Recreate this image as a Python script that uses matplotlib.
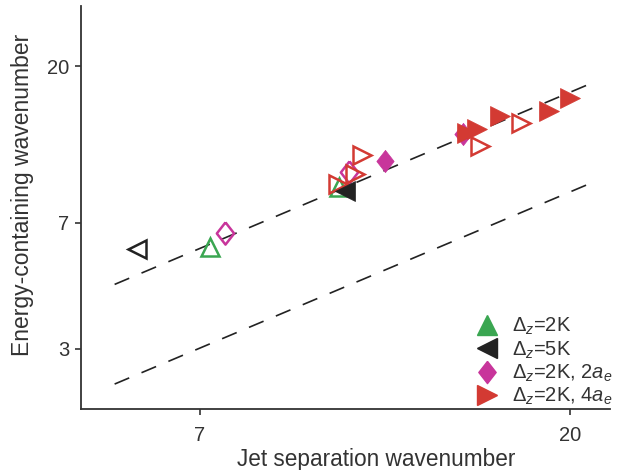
import matplotlib
matplotlib.use("Agg")
import matplotlib.pyplot as plt
import numpy as np

plt.rcParams['font.family'] = ['Liberation Sans', 'DejaVu Sans']
plt.rcParams['mathtext.fontset'] = 'custom'
plt.rcParams['mathtext.rm'] = 'Liberation Sans'
plt.rcParams['mathtext.it'] = 'Liberation Sans:italic'
plt.rcParams['mathtext.sf'] = 'Liberation Sans'

# Data (jet separation wavenumber, energy-containing wavenumber)
green_open_x = [7.2, 10.4]
green_open_y = [5.95, 8.9]

black_open_x = [5.86]
black_open_y = [5.86]
black_fill_x = [10.58]
black_fill_y = [8.66]

mag_open_x = [7.53, 10.68]
mag_open_y = [6.52, 9.80]
mag_fill_x = [11.85, 14.75]
mag_fill_y = [10.6, 12.7]

red_open_x = [10.35, 10.88, 11.09, 15.51, 17.4]
red_open_y = [9.06, 9.69, 11.0, 11.72, 13.7]
red_fill_x = [14.94, 15.37, 16.41, 18.83, 20.0]
red_fill_y = [12.8, 13.16, 14.33, 14.82, 16.2]

line_x = [5.5, 21.2]
upper_coef = 0.84
lower_coef = 0.43

legend_labels = [r'$\Delta_z$=2K', r'$\Delta_z$=5K',
                 r'$\Delta_z$=2K, 2$a_e$', r'$\Delta_z$=2K, 4$a_e$']

GREEN = '#3aa651'
BLACK = '#222222'
MAG = '#c8359b'
RED = '#d33a33'

DIAMOND = [(0, 1), (0.78, 0), (0, -1), (-0.78, 0), (0, 1)]

fig = plt.figure(figsize=(6.19, 4.70), dpi=100)
fig.patch.set_facecolor('white')
ax = fig.add_axes([81/619, 61/470, 529/619, 403/470])
ax.set_xscale('log')
ax.set_yscale('log')

lx = np.array(line_x)
ax.plot(lx, upper_coef * lx, ls=(0, (9.5, 8)), color='#222222', lw=1.2, zorder=1)
ax.plot(lx, lower_coef * lx, ls=(0, (9.5, 8)), color='#222222', lw=1.2, zorder=1)

ms = 13
mew = 1.8
ax.plot(green_open_x, green_open_y, ls='none', marker='^', ms=ms, mfc='none', mec=GREEN, mew=mew, zorder=3)
ax.plot(black_open_x, black_open_y, ls='none', marker='<', ms=ms, mfc='none', mec=BLACK, mew=mew, zorder=3)
ax.plot(black_fill_x, black_fill_y, ls='none', marker='<', ms=ms+1, mfc=BLACK, mec=BLACK, mew=0.5, zorder=4)
ax.plot(mag_open_x, mag_open_y, ls='none', marker=DIAMOND, ms=16, mfc='none', mec=MAG, mew=mew, zorder=3)
ax.plot(mag_fill_x, mag_fill_y, ls='none', marker=DIAMOND, ms=16, mfc=MAG, mec=MAG, mew=0.5, zorder=3)
ax.plot(red_open_x, red_open_y, ls='none', marker='>', ms=ms, mfc='none', mec=RED, mew=mew, zorder=3)
ax.plot(red_fill_x, red_fill_y, ls='none', marker='>', ms=ms+1, mfc=RED, mec=RED, mew=0.5, zorder=3)

ax.set_xlim(5.0, 22.4)
ax.set_ylim(2.0, 30)

ax.set_xticks([7, 20])
ax.set_xticklabels(['7', '20'])
ax.set_yticks([3, 7, 20])
ax.set_yticklabels(['3', '7', '20'])
ax.xaxis.set_minor_locator(matplotlib.ticker.NullLocator())
ax.yaxis.set_minor_locator(matplotlib.ticker.NullLocator())

for s in ['top', 'right']:
    ax.spines[s].set_visible(False)
for s in ['left', 'bottom']:
    ax.spines[s].set_color('#333333')
    ax.spines[s].set_linewidth(1.3)
ax.tick_params(axis='both', direction='out', length=4.5, width=1.2, color='#333333',
               labelsize=14.5, labelcolor='#333333')
ax.tick_params(axis='x', pad=7.5)
ax.tick_params(axis='y', pad=4)

ax.set_xlabel('Jet separation wavenumber', fontsize=16.3, color='#333333')
ax.set_ylabel('Energy-containing wavenumber', fontsize=16.5, color='#333333')
ax.xaxis.set_label_coords(0.558, -0.098)
ax.yaxis.set_label_coords(-0.089, 0.531)

handles = [
    plt.Line2D([], [], ls='none', marker='^', ms=14, color=GREEN),
    plt.Line2D([], [], ls='none', marker='<', ms=14, color=BLACK),
    plt.Line2D([], [], ls='none', marker=DIAMOND, ms=16, color=MAG),
    plt.Line2D([], [], ls='none', marker='>', ms=14, color=RED),
]
leg = fig.legend(handles, legend_labels, loc='upper left', frameon=False,
                 fontsize=14.5, handlelength=1.0, handletextpad=0.75, labelspacing=0.1,
                 borderaxespad=0, borderpad=0,
                 bbox_to_anchor=(477/619, (470-316)/470))
for t in leg.get_texts():
    t.set_color('#333333')

fig.savefig('out.png', dpi=100, facecolor='white')
